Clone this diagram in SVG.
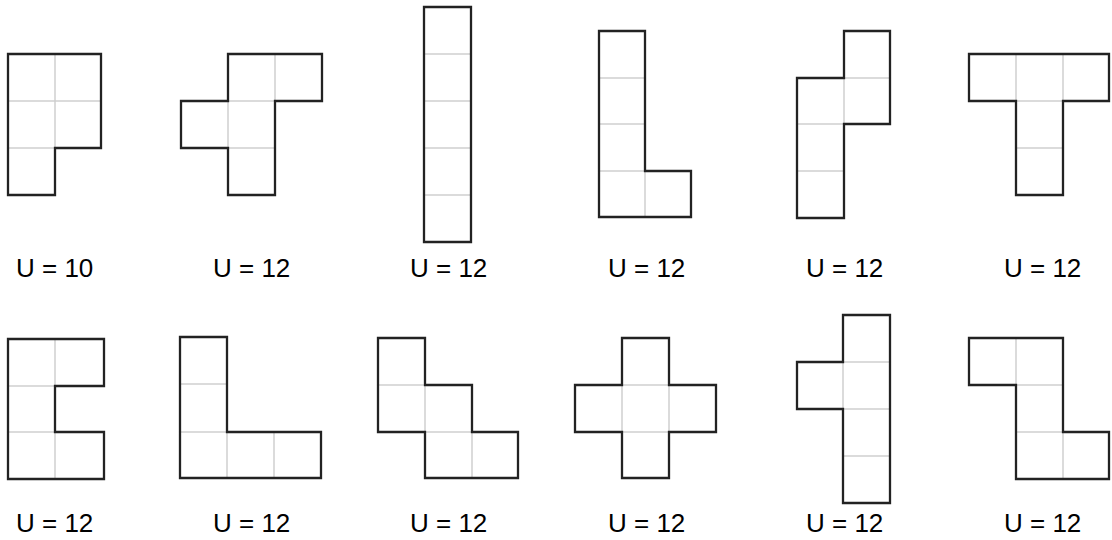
<svg xmlns="http://www.w3.org/2000/svg" width="1112" height="540" viewBox="0 0 1112 540">
<style>
.grid{fill:none;stroke:#cfcfcf;stroke-width:1.5}
.out{fill:none;stroke:#222;stroke-width:2.3;stroke-linejoin:miter}
.lbl{font-family:"Liberation Sans",Arial,sans-serif;font-size:26px;fill:#000}
</style>
<rect width="1112" height="540" fill="#fff"/>
<g id="shape1">
<path class="grid" d="M55,54V148M8,101H101M8,148H55"/>
<path class="out" d="M8,54H101V148H55V195H8Z"/>
<text class="lbl" x="16" y="277">U = 10</text>
</g>
<g id="shape2">
<path class="grid" d="M275,54V101M228,101H275M228,101V148M228,148H275"/>
<path class="out" d="M228,54H322V101H275V195H228V148H181V101H228Z"/>
<text class="lbl" x="213" y="277">U = 12</text>
</g>
<g id="shape3">
<path class="grid" d="M424,54H471M424,101H471M424,148H471M424,195H471"/>
<path class="out" d="M424,7H471V242H424Z"/>
<text class="lbl" x="410" y="277">U = 12</text>
</g>
<g id="shape4">
<path class="grid" d="M599,78H645M599,124H645M599,171H645M645,171V217"/>
<path class="out" d="M599,31H645V171H691V217H599Z"/>
<text class="lbl" x="608" y="277">U = 12</text>
</g>
<g id="shape5">
<path class="grid" d="M844,78H890M844,78V124M797,124H844M797,171H844"/>
<path class="out" d="M797,78H844V31H890V124H844V218H797Z"/>
<text class="lbl" x="806" y="277">U = 12</text>
</g>
<g id="shape6">
<path class="grid" d="M1016,54V101M1063,54V101M1016,101H1063M1016,148H1063"/>
<path class="out" d="M969,54H1109V101H1063V195H1016V101H969Z"/>
<text class="lbl" x="1004" y="277">U = 12</text>
</g>
<g id="shape7">
<path class="grid" d="M55,339V386M55,432V479M8,386H55M8,432H55"/>
<path class="out" d="M8,339H104V386H55V432H104V479H8Z"/>
<text class="lbl" x="16" y="532">U = 12</text>
</g>
<g id="shape8">
<path class="grid" d="M180,384H227M180,432H227M227,432V478M274,432V478"/>
<path class="out" d="M180,337H227V432H321V478H180Z"/>
<text class="lbl" x="213" y="532">U = 12</text>
</g>
<g id="shape9">
<path class="grid" d="M378,385H425M425,385V432M425,432H472M472,432V478"/>
<path class="out" d="M378,338H425V385H472V432H518V478H425V432H378Z"/>
<text class="lbl" x="410" y="532">U = 12</text>
</g>
<g id="shape10">
<path class="grid" d="M622,385H669M622,432H669M622,385V432M669,385V432"/>
<path class="out" d="M622,338H669V385H716V432H669V478H622V432H575V385H622Z"/>
<text class="lbl" x="608" y="532">U = 12</text>
</g>
<g id="shape11">
<path class="grid" d="M843,362H890M843,362V409M843,409H890M843,456H890"/>
<path class="out" d="M843,315H890V503H843V409H797V362H843Z"/>
<text class="lbl" x="806" y="532">U = 12</text>
</g>
<g id="shape12">
<path class="grid" d="M1016,338V385M1016,385H1063M1016,432H1063M1063,432V479"/>
<path class="out" d="M969,338H1063V432H1109V479H1016V385H969Z"/>
<text class="lbl" x="1004" y="532">U = 12</text>
</g>
<g id="connectors"/>
</svg>
